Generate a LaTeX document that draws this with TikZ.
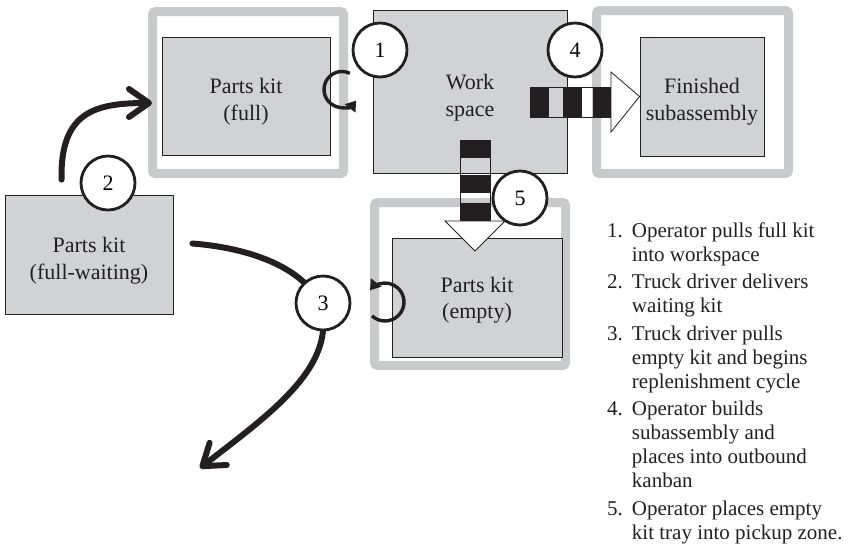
\documentclass[tikz,border=0pt]{standalone}
\usepackage{fontspec}
\setmainfont{Liberation Serif}
\usetikzlibrary{arrows.meta,calc}
\definecolor{boxgray}{HTML}{D1D2D4}
\definecolor{framegray}{HTML}{C9CACC}
\definecolor{ink}{HTML}{231F20}

\begin{document}
\begin{tikzpicture}[x=1pt,y=-1pt,
  frame/.style={draw=framegray, line width=9pt, rounded corners=3pt, inner sep=0pt},
  kit/.style={draw=ink, fill=boxgray, line width=0.9pt, inner sep=0pt},
  caption/.style={align=center, inner sep=0pt, text=ink,
    font=\fontsize{22}{26.5}\selectfont},
  num/.style={circle, draw=ink, fill=white, line width=2.8pt, minimum size=54pt,
    inner sep=0pt, font=\fontsize{22}{24}\selectfont},
  flow/.style={draw=ink, line width=6pt, line cap=round,
    -{Straight Barb[length=20pt,width=28pt,round]}},
  turn/.style={draw=ink, line width=3.4pt, -{Triangle[length=10pt,width=13pt]}},
  stripe/.style={fill=ink},
  hollow/.style={draw=ink, fill=white, line width=0.8pt, line join=miter}
]
\useasboundingbox (0,0) rectangle (858,550);

% holding frames
\node[frame, minimum width=191pt, minimum height=162pt] (fullframe) at (248,92.5) {};
\node[frame, minimum width=192pt, minimum height=163pt] (doneframe) at (692.5,92) {};
\node[frame, minimum width=191pt, minimum height=163pt] (emptyframe) at (470,284) {};

% boxes
\node[kit, minimum width=168pt, minimum height=118pt] (full) at (246,96) {};
\node[kit, minimum width=194pt, minimum height=163pt] (work) at (470,91.5) {};
\node[kit, minimum width=124pt, minimum height=119pt] (done) at (702,96.5) {};
\node[kit, minimum width=170pt, minimum height=119pt] (empty) at (477,297.5) {};
\node[kit, minimum width=168pt, minimum height=119pt] (wait) at (89,254.5) {};

% box captions
\node[caption] (fulltxt) at (246,101.5) {Parts kit\\(full)};
\node[caption] (worktxt) at (470,97.5) {Work\\space};
\node[caption] (donetxt) at (702,101.5) {Finished\\subassembly};
\node[caption] (emptytxt) at (477,300) {Parts kit\\(empty)};
\node[caption] (waittxt) at (89,260.5) {Parts kit\\(full-waiting)};

% outbound kanban arrow (work space -> finished subassembly)
\fill[stripe] (530,87) rectangle (549,117);
\fill[stripe] (563,87) rectangle (582,117);
\fill[stripe] (593,87) rectangle (611,117);
\draw[ink, line width=0.8pt] (530,87) rectangle (611,117);
\draw[hollow] (611,72) -- (done.west) -- (611,132) -- cycle;

% empty tray arrow (work space -> pickup zone)
\fill[stripe] (460,140) rectangle (490,158);
\fill[stripe] (460,175) rectangle (490,193);
\fill[stripe] (460,203) rectangle (490,221);
\draw[ink, line width=0.8pt] (460,140) rectangle (490,221);
\draw[hollow] (445,221) -- (475,251) -- (505,221) -- cycle;

% small pull loops
\draw[turn] (342,89.5) ++(-64:18) arc[start angle=-64, end angle=-322, radius=18];
\draw[turn] (385,302) ++(-227:19) arc[start angle=-227, end angle=-502, radius=19];

% truck driver moves
\coordinate (a2s) at ($(wait.north west)+(57,-15)$);
\coordinate (a2e) at ($(fullframe.west)+(4,10.5)$);
\draw[flow] (a2s) .. controls (60,112) and (95,103) .. (a2e);

\coordinate (a3s) at ($(wait.east)+(19,-11)$);
\coordinate (a3m) at (323,331);
\coordinate (a3e) at (200,468);
\draw[flow] (a3s) .. controls (275,250) and (330,285) .. (a3m)
  .. controls (318,380) and (262,420) .. (a3e);

% step markers
\node[num] (c1) at (380,50) {1};
\node[num] (c2) at (108,183) {2};
\node[num] (c3) at (323,303) {3};
\node[num] (c4) at (575,50) {4};
\node[num] (c5) at (520,198) {5};

% legend
\node[anchor=base west, inner sep=0pt, text=ink, font=\fontsize{21}{24}\selectfont] (steps) at (607,237)
{\begin{tabular}[t]{@{}l@{\hspace{9pt}}l@{}}
1. & Operator pulls full kit\\
   & into workspace\\[3.5pt]
2. & Truck driver delivers\\
   & waiting kit\\[3.5pt]
3. & Truck driver pulls\\
   & empty kit and begins\\
   & replenishment cycle\\[3.5pt]
4. & Operator builds\\
   & subassembly and\\
   & places into outbound\\
   & kanban\\[3.5pt]
5. & Operator places empty\\
   & kit tray into pickup zone.
\end{tabular}};
\end{tikzpicture}
\end{document}
